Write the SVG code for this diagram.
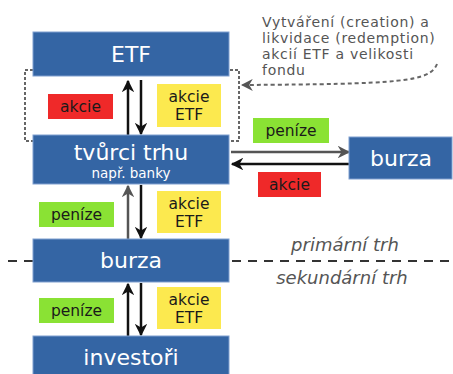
<svg xmlns="http://www.w3.org/2000/svg" width="453" height="374" viewBox="0 0 453 374">
<style>
.node{fill:#3465a4;stroke:#7f9fcf;stroke-width:1}
.nt{font-family:"DejaVu Sans",sans-serif;fill:#ffffff;text-anchor:middle}
.lt{font-family:"DejaVu Sans",sans-serif;font-size:15.5px;fill:#1a1a1a;text-anchor:middle}
.red{fill:#ef2929}
.green{fill:#8ae234}
.yellow{fill:#fce94f}
.arr{stroke:#111;stroke-width:2.5;fill:none}
.garr{stroke:#555;stroke-width:2.5;fill:none}
.it{font-family:"DejaVu Sans",sans-serif;font-size:18px;font-style:italic;fill:#555;text-anchor:middle}
</style>
<defs>
<marker id="hb" viewBox="0 0 10 10" refX="9" refY="5" markerWidth="5" markerHeight="5" orient="auto" markerUnits="strokeWidth">
<path d="M0,0 L10,5 L0,10 L3,5 Z" fill="#111"/>
</marker>
<marker id="hg" viewBox="0 0 10 10" refX="9" refY="5" markerWidth="5" markerHeight="5" orient="auto" markerUnits="strokeWidth">
<path d="M0,0 L10,5 L0,10 L3,5 Z" fill="#555"/>
</marker>
<marker id="hd" viewBox="0 0 10 10" refX="9" refY="5" markerWidth="6" markerHeight="6" orient="auto" markerUnits="strokeWidth">
<path d="M0,0 L10,5 L0,10 L3,5 Z" fill="#555"/>
</marker>
</defs>

<g id="connectors">
<line x1="8" y1="261" x2="453" y2="261" stroke="#333" stroke-width="2" stroke-dasharray="9,7"/>
<rect x="25" y="70" width="214" height="71" fill="none" stroke="#666" stroke-width="2" stroke-dasharray="3,2"/>
<path d="M437,64 C430,82 400,84 242,85" fill="none" stroke="#666" stroke-width="2" stroke-dasharray="4,3" marker-end="url(#hd)"/>
<line class="arr" x1="128" y1="135" x2="128" y2="81" marker-end="url(#hb)"/>
<line class="arr" x1="141" y1="80" x2="141" y2="134" marker-end="url(#hb)"/>
<line class="garr" x1="128" y1="239" x2="128" y2="186" marker-end="url(#hg)"/>
<line class="arr" x1="141" y1="185" x2="141" y2="238" marker-end="url(#hb)"/>
<line class="arr" x1="128" y1="336" x2="128" y2="284" marker-end="url(#hb)"/>
<line class="arr" x1="141" y1="283" x2="141" y2="335" marker-end="url(#hb)"/>
<line class="garr" x1="231" y1="152" x2="349" y2="152" marker-end="url(#hg)"/>
<line class="arr" x1="349" y1="164" x2="232" y2="164" marker-end="url(#hb)"/>
</g>

<g id="labels">
<rect class="red" x="48" y="94" width="65" height="25"/>
<text class="lt" x="80.5" y="112">akcie</text>
<rect class="yellow" x="157" y="84" width="64" height="43"/>
<text class="lt" x="189" y="102">akcie</text>
<text class="lt" x="189" y="120">ETF</text>
<rect class="green" x="39" y="202" width="75" height="25"/>
<text class="lt" x="76.5" y="220">peníze</text>
<rect class="yellow" x="157" y="191" width="64" height="42"/>
<text class="lt" x="189" y="209">akcie</text>
<text class="lt" x="189" y="227">ETF</text>
<rect class="green" x="39" y="298" width="75" height="25"/>
<text class="lt" x="76.5" y="316">peníze</text>
<rect class="yellow" x="157" y="287" width="64" height="42"/>
<text class="lt" x="189" y="305">akcie</text>
<text class="lt" x="189" y="323">ETF</text>
<rect class="green" x="253" y="118" width="76" height="25"/>
<text class="lt" x="291" y="136">peníze</text>
<rect class="red" x="258" y="172" width="63" height="25"/>
<text class="lt" x="289.5" y="190">akcie</text>
<text class="it" x="345" y="251">primární trh</text>
<text class="it" x="342" y="284">sekundární trh</text>
<g font-family="DejaVu Sans, sans-serif" font-size="14" fill="#555" letter-spacing="0.7">
<text x="262" y="26.5">Vytváření (creation) a</text>
<text x="262" y="42.5">likvidace (redemption)</text>
<text x="262" y="58.5">akcií ETF a velikosti</text>
<text x="262" y="74.5">fondu</text>
</g>
</g>

<g id="etf">
<rect class="node" x="33" y="32" width="196" height="44"/>
<text class="nt" x="131" y="62" font-size="22">ETF</text>
</g>
<g id="tvurci">
<rect class="node" x="33" y="135" width="196" height="49"/>
<text class="nt" x="131" y="160" font-size="22">tvůrci trhu</text>
<text class="nt" x="131" y="178" font-size="13.5">např. banky</text>
</g>
<g id="burza-stred">
<rect class="node" x="33" y="239" width="196" height="43"/>
<text class="nt" x="131" y="268" font-size="22">burza</text>
</g>
<g id="investori">
<rect class="node" x="33" y="336" width="196" height="44"/>
<text class="nt" x="131" y="365" font-size="22">investoři</text>
</g>
<g id="burza-vpravo">
<rect class="node" x="349" y="137" width="103" height="42"/>
<text class="nt" x="401" y="166" font-size="22">burza</text>
</g>
</svg>
